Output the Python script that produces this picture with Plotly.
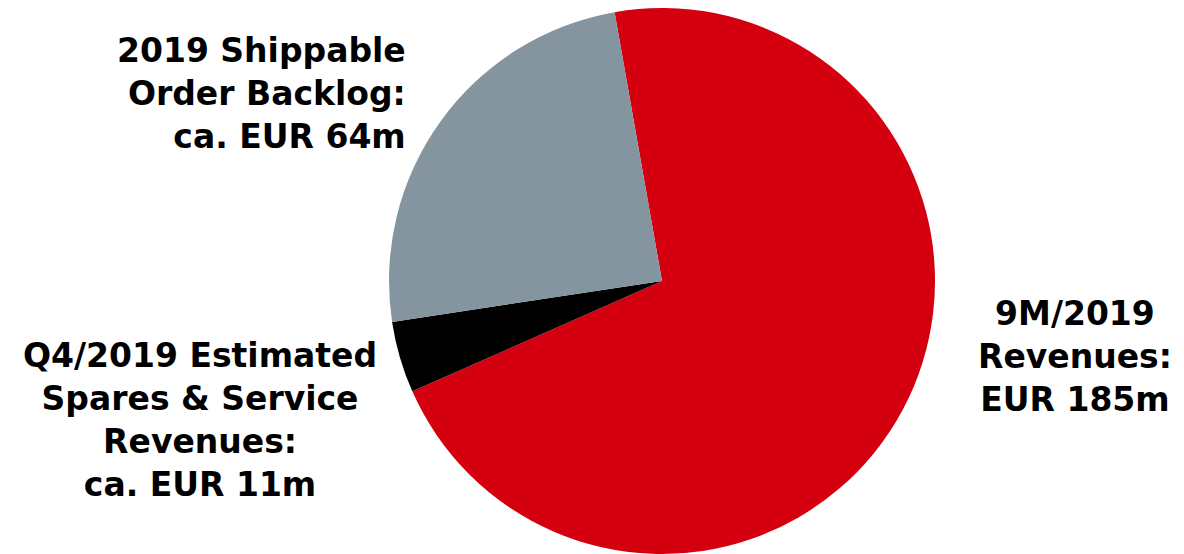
import plotly.graph_objects as go

labels = ["9M/2019 Revenues", "Q4/2019 Estimated Spares & Service Revenues", "2019 Shippable Order Backlog"]
values = [185, 11, 64]
colors = ["#D4000F", "#000000", "#8495A0"]

label_texts = [
    "9M/2019<br>Revenues:<br>EUR 185m",
    "Q4/2019 Estimated<br>Spares & Service<br>Revenues:<br>ca. EUR 11m",
    "2019 Shippable<br>Order Backlog:<br>ca. EUR 64m",
]

# page has an 8px body margin; work in figure coordinates
OFF = 8
W, H = 1184 - OFF, 554 - OFF
cx = 662 - OFF
r = H / 2

fig = go.Figure(go.Pie(
    labels=labels, values=values, sort=False, direction="clockwise", rotation=-10,
    marker=dict(colors=colors, line=dict(width=0)),
    textinfo="none", hoverinfo="label+value", showlegend=False,
    domain=dict(x=[(cx - r) / W, (cx + r) / W], y=[0, 1]),
))

font = dict(family="DejaVu Sans", size=33, color="#000000")
pos = [(1075, 356, "center"), (200, 420, "center"), (408, 93, "right")]
for txt, (x, y, al) in zip(label_texts, pos):
    fig.add_annotation(text="<b>" + txt + "</b>", x=(x - OFF) / W, y=1 - (y - OFF) / H,
                       xref="paper", yref="paper",
                       xanchor={"center": "center", "right": "right"}[al], yanchor="middle",
                       align=al, showarrow=False, font=font)

fig.update_layout(width=W, height=H, margin=dict(l=0, r=0, t=0, b=0),
                  paper_bgcolor="white", plot_bgcolor="white")
fig.write_html("out.html")
